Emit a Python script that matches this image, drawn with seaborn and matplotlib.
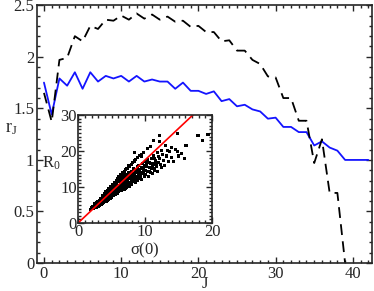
import numpy as np
import pandas as pd
import seaborn as sns
import matplotlib.pyplot as plt
from matplotlib.ticker import MultipleLocator

# main curves r_J vs J
J = list(range(43))
r_blue = [1.75, 1.44, 1.79, 1.72, 1.85, 1.69, 1.85, 1.76, 1.815, 1.79,
          1.815, 1.76, 1.815, 1.76, 1.78, 1.76, 1.76, 1.69, 1.75, 1.67,
          1.67, 1.64, 1.665, 1.57, 1.59, 1.52, 1.535, 1.49, 1.47, 1.40,
          1.41, 1.32, 1.32, 1.27, 1.27, 1.14, 1.18, 1.12, 1.09, 1.00,
          1.00, 1.00, 1.00]
J_dash = list(range(40))
r_dash = [1.65, 1.37, 1.97, 1.99, 2.20, 2.15, 2.30, 2.27, 2.36, 2.35,
          2.40, 2.36, 2.42, 2.37, 2.41, 2.36, 2.39, 2.34, 2.35, 2.29,
          2.30, 2.24, 2.24, 2.15, 2.16, 2.06, 2.06, 1.97, 1.93, 1.81,
          1.80, 1.60, 1.60, 1.38, 1.38, 0.97, 1.20, 0.68, 0.68, 0.00]

# inset scatter, R0 vs sigma(0)
sigma0 = [1.9, 2.0, 2.1, 2.2, 2.3, 2.4, 2.5, 2.5, 2.6, 2.7, 2.8, 2.8, 2.9, 3.0, 3.0,
          3.1, 3.2, 3.2, 3.3, 3.4, 3.4, 3.5, 3.5, 3.6, 3.7, 3.7, 3.8, 3.8, 3.9, 4.0,
          4.0, 4.0, 4.1, 4.2, 4.2, 4.3, 4.3, 4.4, 4.4, 4.5, 4.5, 4.6, 4.6, 4.7, 4.7,
          4.8, 4.8, 4.9, 4.9, 5.0, 5.0, 5.0, 5.1, 5.1, 5.2, 5.2, 5.3, 5.3, 5.4, 5.4,
          5.5, 5.5, 5.6, 5.6, 5.7, 5.7, 5.8, 5.8, 5.9, 6.0, 6.0, 6.0, 6.1, 6.2, 6.2,
          6.3, 6.3, 6.4, 6.5, 6.5, 6.6, 6.6, 6.7, 6.8, 6.8, 6.9, 7.0, 7.0, 7.0, 7.1,
          7.2, 7.2, 7.3, 7.4, 7.4, 7.5, 7.5, 7.6, 7.7, 7.8, 7.8, 7.9, 8.0, 8.0, 8.1,
          8.2, 8.2, 8.3, 8.4, 8.5, 8.5, 8.6, 8.7, 8.8, 8.9, 9.0, 9.0, 9.1, 9.2, 9.3,
          9.4, 9.5, 9.6, 9.7, 9.8, 9.9, 10.0, 10.0, 10.1, 10.2, 10.3, 10.4, 10.5, 10.6, 10.7,
          10.8, 10.9, 11.0, 11.1, 11.2, 11.3, 11.4, 11.5, 11.7, 11.8, 11.9, 12.0, 12.2, 12.4, 12.5,
          12.7, 12.9, 13.2, 13.5, 13.7, 14.0, 14.2, 14.5, 14.8, 15.0, 15.45, 15.9, 16.1, 8.4, 9.5,
          11.2, 12.1, 12.2, 13.0, 14.8, 17.9, 18.6, 19.4, 14.2, 14.8, 2.4, 2.9, 3.3, 3.6, 3.9,
          4.1, 4.4, 4.6, 4.9, 5.2, 5.4, 5.7, 5.9, 6.1, 6.4, 6.7, 6.9, 7.1, 7.3, 7.6,
          7.9, 8.1, 8.4, 8.6, 8.9, 9.2, 9.5, 9.8, 10.3, 10.8, 3.1, 3.5, 4.2, 4.8, 5.3,
          5.9, 6.4, 7.0, 7.7, 8.3, 9.1, 9.9, 10.6, 11.4, 12.3,
          2.65, 3.05, 3.45, 3.85, 4.25, 4.65, 5.05, 5.45, 5.85, 6.25, 6.65, 7.05, 7.45, 7.85, 8.25,
          8.65, 9.05, 9.45, 9.85, 10.45, 2.85, 3.25, 3.65, 4.05, 4.45, 4.85, 5.25, 5.65, 6.05, 6.45,
          6.85, 7.25, 7.65, 8.05, 8.45, 8.85, 9.25, 9.65, 10.05, 11.05, 3.55, 4.15, 4.75, 5.35, 5.95,
          6.55, 7.15, 7.75, 8.35, 8.95, 9.55, 10.15, 10.75, 11.35, 11.95, 12.6, 13.3, 13.9, 10.9, 11.6]
R0 = [3.8, 4.2, 3.9, 4.5, 4.1, 4.8, 4.3, 5.0, 4.6, 5.2, 4.4, 5.6, 5.0, 4.7, 5.8,
      5.3, 6.1, 4.9, 5.6, 6.4, 5.1, 5.9, 6.8, 5.4, 6.3, 7.1, 5.8, 6.7, 7.4, 6.0,
      6.9, 7.8, 6.5, 7.3, 8.1, 6.2, 7.0, 7.7, 8.5, 6.6, 7.4, 8.2, 9.0, 7.0, 7.9,
      8.7, 6.9, 9.3, 7.6, 8.3, 9.0, 7.1, 8.0, 9.7, 7.5, 8.8, 10.1, 8.2, 7.8, 9.4,
      8.6, 10.4, 9.0, 7.9, 9.9, 11.0, 8.4, 10.5, 9.3, 11.4, 8.7, 10.0, 9.6, 11.8, 8.9,
      10.8, 9.3, 12.2, 10.2, 9.1, 11.4, 12.7, 9.8, 10.9, 12.0, 9.4, 11.5, 13.1, 10.3, 12.4,
      9.9, 11.0, 13.5, 10.6, 12.0, 11.3, 14.0, 10.2, 12.7, 11.0, 13.6, 11.8, 14.4, 10.8, 12.5,
      13.2, 11.4, 15.0, 12.0, 13.9, 11.2, 14.8, 12.6, 15.6, 11.9, 13.4, 16.0, 12.3, 14.6, 13.0,
      15.4, 12.1, 16.5, 13.7, 14.9, 12.8, 17.0, 15.8, 13.4, 16.2, 14.2, 17.6, 13.0, 15.5, 16.8,
      14.0, 18.0, 15.2, 13.8, 16.6, 18.6, 14.6, 17.2, 15.8, 19.5, 14.2, 16.8, 18.0, 15.3, 20.2,
      17.4, 16.0, 18.6, 17.0, 19.8, 18.2, 17.0, 20.3, 19.8, 18.6, 19.4, 17.8, 21.5, 19.5, 18.5,
      23.0, 24.2, 22.6, 21.5, 24.9, 24.4, 23.0, 24.6, 17.0, 19.8, 5.3, 6.0, 6.9, 7.5, 8.2,
      8.6, 9.1, 9.6, 10.2, 10.7, 11.3, 11.8, 12.3, 12.8, 13.3, 13.9, 14.4, 14.8, 15.2, 15.8,
      16.3, 16.7, 17.2, 17.6, 18.1, 18.7, 19.1, 19.6, 20.6, 21.3, 4.6, 5.2, 6.1, 6.8, 7.5,
      8.2, 9.0, 9.7, 10.6, 11.4, 12.4, 13.4, 14.3, 15.2, 16.3,
      4.9, 5.5, 6.2, 6.6, 7.4, 7.8, 8.6, 9.2, 9.8, 10.5, 11.1, 11.6, 12.3, 12.9, 13.7,
      14.1, 14.9, 15.3, 16.0, 16.9, 4.5, 5.1, 5.6, 6.3, 6.8, 7.3, 7.9, 8.4, 9.1, 9.6,
      10.1, 10.8, 11.2, 11.9, 12.3, 13.0, 13.6, 13.9, 14.6, 16.1, 6.2, 7.2, 8.0, 8.9, 10.1,
      10.7, 11.8, 12.6, 13.5, 14.3, 15.0, 15.6, 16.4, 17.9, 18.4, 19.0, 20.0, 20.9, 15.0, 16.2]
fit_x = [0, 20]
fit_slope = 1.75

sns.set_style("ticks")
plt.rcParams['font.family'] = ['Liberation Serif', 'DejaVu Serif']
plt.rcParams['font.serif'] = ['Liberation Serif', 'DejaVu Serif']
plt.rcParams['mathtext.fontset'] = 'stix'

fig = plt.figure(figsize=(3.74, 2.91), dpi=100)
ax = fig.add_axes([0.099, 0.096, 0.896, 0.886])

df_blue = pd.DataFrame({'J': J, 'r': r_blue})
df_dash = pd.DataFrame({'J': J_dash, 'r': r_dash})
sns.lineplot(data=df_blue, x='J', y='r', ax=ax, color='#1414ff', lw=1.3)
sns.lineplot(data=df_dash, x='J', y='r', ax=ax, color='black', lw=1.3,
             dashes=False, linestyle=(0, (6, 3.5)))

ax.set_xlim(-0.9, 42.5)
ax.set_ylim(0, 2.5)
ax.xaxis.set_major_locator(MultipleLocator(10))
ax.xaxis.set_minor_locator(MultipleLocator(1))
ax.yaxis.set_minor_locator(MultipleLocator(0.1))
ax.set_yticks([0, 0.5, 1, 1.5, 2, 2.5])
ax.set_yticklabels(['0', '0.5', '1', '1.5', '2', '2.5'])
ax.tick_params(which='both', direction='in', top=True, right=True, labelsize=12, pad=2)
ax.tick_params(which='major', length=4, width=1)
ax.tick_params(which='minor', length=2, width=1)
for s in ax.spines.values():
    s.set_linewidth(1.2)
ax.set_xlabel('J', fontsize=12)
ax.xaxis.set_label_coords(0.5, -0.052)
ax.set_ylabel(r'r$_\mathregular{J}$', fontsize=13, rotation=0)
ax.yaxis.set_label_coords(-0.075, 0.49)

# inset
axin = fig.add_axes([0.209, 0.234, 0.358, 0.371])
sns.scatterplot(x=sigma0, y=R0, ax=axin, color='black', s=5, marker='s',
                edgecolor='none', linewidth=0)
fit_y = [fit_slope * v for v in fit_x]
sns.lineplot(x=fit_x, y=fit_y, ax=axin, color='red', lw=1.2)
axin.set_xlim(0, 20)
axin.set_ylim(0, 30)
axin.xaxis.set_major_locator(MultipleLocator(10))
axin.xaxis.set_minor_locator(MultipleLocator(1))
axin.yaxis.set_major_locator(MultipleLocator(10))
axin.yaxis.set_minor_locator(MultipleLocator(1))
axin.tick_params(which='both', direction='in', top=True, right=True, labelsize=12, pad=1)
axin.tick_params(which='major', length=4, width=1)
axin.tick_params(which='minor', length=2, width=1)
for s in axin.spines.values():
    s.set_linewidth(1.2)
axin.set_xlabel(r'$\mathregular{\sigma}$(0)', fontsize=12, labelpad=0)
axin.set_ylabel(r'R$_\mathregular{0}$', fontsize=12, rotation=0)
axin.yaxis.set_label_coords(-0.2, 0.47)

fig.savefig('out.png', dpi=100)
